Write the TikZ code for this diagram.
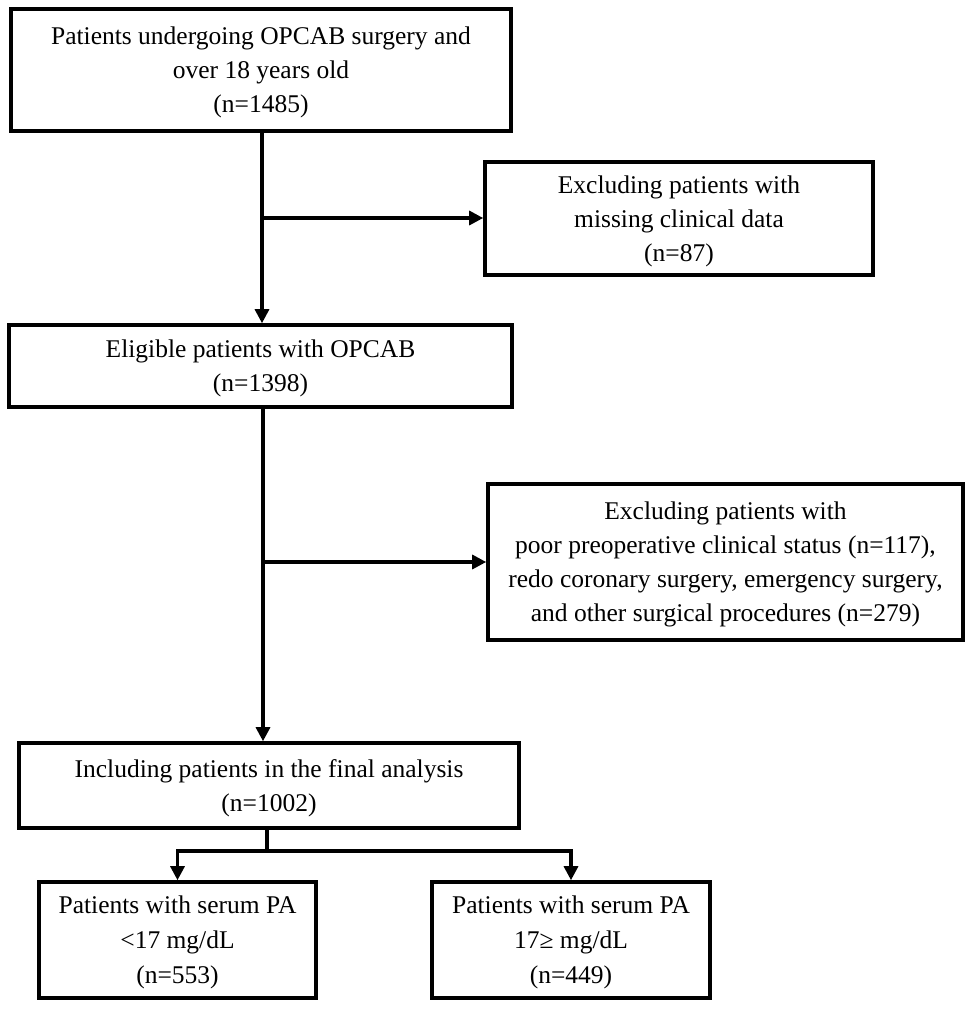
\documentclass[tikz,border=0pt]{standalone}
\usepackage{fontspec}
\setmainfont{Liberation Serif}
\usetikzlibrary{arrows.meta}
\begin{document}
\begin{tikzpicture}[x=1pt,y=-1pt,
  box/.style={draw=black,line width=3.6pt,align=center,inner sep=0pt,text depth=0pt,
    font=\fontsize{25.5}{34}\selectfont},
  arr/.style={line width=3.2pt,-{Triangle[length=14pt,width=14pt]}},
  ln/.style={line width=3.2pt}]
\useasboundingbox (0,0) rectangle (972,1010);
\node[box,minimum width=500pt,minimum height=122pt] (b1) at (261,70)
  {Patients undergoing OPCAB surgery and\\over 18 years old\\(n=1485)};
\node[box,minimum width=388pt,minimum height=113pt] (b2) at (679,218.5)
  {Excluding patients with\\missing clinical data\\(n=87)};
\node[box,minimum width=503pt,minimum height=82pt] (b3) at (260.5,366)
  {Eligible patients with OPCAB\\(n=1398)};
\node[box,minimum width=475pt,minimum height=156pt] (b4) at (725.5,562)
  {Excluding patients with\\poor preoperative clinical status (n=117),\\redo coronary surgery, emergency surgery,\\and other surgical procedures (n=279)};
\node[box,minimum width=500pt,minimum height=85pt] (b5) at (269,785.5)
  {Including patients in the final analysis\\(n=1002)};
\node[box,minimum width=277pt,minimum height=116pt,font=\fontsize{25.5}{35}\selectfont] (b6) at (177.5,940)
  {Patients with serum PA\\<17 mg/dL\\(n=553)};
\node[box,minimum width=278pt,minimum height=116pt,font=\fontsize{25.5}{35}\selectfont] (b7) at (571,940)
  {Patients with serum PA\\17≥ mg/dL\\(n=449)};
\coordinate (j1) at (262,218);
\coordinate (j2) at (263,562);
\coordinate (j3) at (267,851);
\draw[arr] (b1.south -| j1) -- (b3.north -| j1);
\draw[arr] (j1) -- (j1 -| b2.west);
\draw[arr] (b3.south -| j2) -- (b5.north -| j2);
\draw[arr] (j2) -- (j2 -| b4.west);
\draw[ln] (b5.south -| j3) -- (j3);
\draw[arr] (j3) -| (b6.north);
\draw[arr] (j3) -| (b7.north);
\end{tikzpicture}
\end{document}
